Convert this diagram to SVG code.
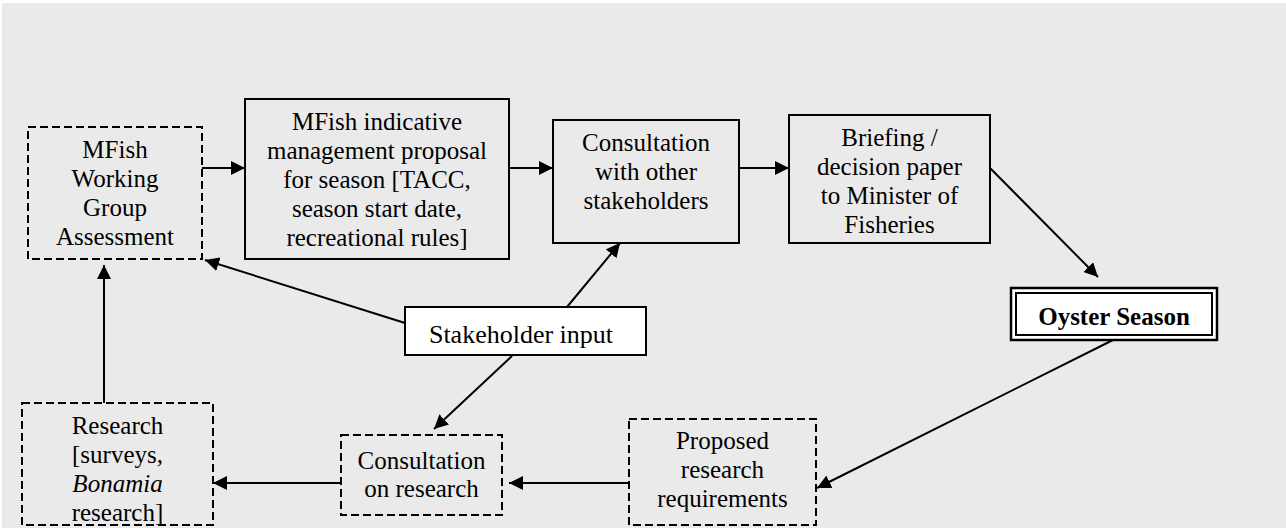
<svg xmlns="http://www.w3.org/2000/svg" width="1286" height="528" viewBox="0 0 1286 528">
<defs>
<style>
.bx{fill:none;stroke:#000;stroke-width:2}
.dash{stroke-dasharray:8,4}
.wh{fill:#fff}
.t{font-family:"Liberation Serif","Times New Roman",serif;font-size:25px;fill:#000;text-anchor:middle}
.b{font-weight:bold}
.c{stroke:#000;stroke-width:2;fill:none;marker-end:url(#ah)}
</style>
<marker id="ah" viewBox="0 0 14 14" refX="14" refY="7" markerWidth="14" markerHeight="14" markerUnits="userSpaceOnUse" orient="auto">
<path d="M0,0 L14,7 L0,14 z" fill="#000"/>
</marker>
</defs>
<rect x="0" y="0" width="1286" height="528" fill="#fff"/>
<rect x="2" y="3" width="1284" height="525" fill="#eaeaea"/>

<g id="connectors">
<line class="c" x1="202" y1="168" x2="245" y2="168"/>
<line class="c" x1="509" y1="168" x2="553" y2="168"/>
<line class="c" x1="739" y1="168" x2="789" y2="168"/>
<line class="c" x1="990" y1="168" x2="1098" y2="277"/>
<line class="c" x1="1113" y1="340" x2="817" y2="488"/>
<line class="c" x1="629" y1="483" x2="509" y2="483"/>
<line class="c" x1="341" y1="483" x2="213" y2="483"/>
<line class="c" x1="104" y1="403" x2="104" y2="265"/>
<line class="c" x1="405" y1="323" x2="205" y2="260"/>
<line class="c" x1="567" y1="307" x2="620" y2="243"/>
<line class="c" x1="512" y1="356" x2="434" y2="429"/>
</g>

<g id="n-wg">
<rect class="bx dash" x="28" y="127" width="174" height="132"/>
<text class="t" x="115" y="158">MFish</text>
<text class="t" x="115" y="187">Working</text>
<text class="t" x="115" y="216">Group</text>
<text class="t" x="115" y="245">Assessment</text>
</g>

<g id="n-proposal">
<rect class="bx" x="245" y="99" width="264" height="160"/>
<text class="t" x="377" y="130">MFish indicative</text>
<text class="t" x="377" y="159">management proposal</text>
<text class="t" x="377" y="188">for season [TACC,</text>
<text class="t" x="377" y="217">season start date,</text>
<text class="t" x="377" y="246">recreational rules]</text>
</g>

<g id="n-consult">
<rect class="bx" x="553" y="120" width="186" height="123"/>
<text class="t" x="646" y="151">Consultation</text>
<text class="t" x="646" y="180">with other</text>
<text class="t" x="646" y="209">stakeholders</text>
</g>

<g id="n-brief">
<rect class="bx" x="789" y="115" width="201" height="128"/>
<text class="t" x="889.5" y="146">Briefing /</text>
<text class="t" x="889.5" y="175">decision paper</text>
<text class="t" x="889.5" y="204">to Minister of</text>
<text class="t" x="889.5" y="233">Fisheries</text>
</g>

<g id="n-oyster">
<rect class="bx wh" x="1011" y="288" width="206" height="52" style="stroke-width:2.5"/>
<rect class="bx" x="1016" y="293" width="196" height="42"/>
<text class="t b" x="1114" y="325">Oyster Season</text>
</g>

<g id="n-stake">
<rect class="bx wh" x="405" y="307" width="241" height="48"/>
<text class="t" x="521" y="343" style="font-size:26px">Stakeholder input</text>
</g>

<g id="n-research">
<rect class="bx dash" x="22" y="403" width="191" height="122"/>
<text class="t" x="117.5" y="434">Research</text>
<text class="t" x="117.5" y="463">[surveys,</text>
<text class="t" x="117.5" y="492" font-style="italic">Bonamia</text>
<text class="t" x="117.5" y="521">research]</text>
</g>

<g id="n-consres">
<rect class="bx dash" x="341" y="435" width="161" height="80"/>
<text class="t" x="421.5" y="469">Consultation</text>
<text class="t" x="421.5" y="497">on research</text>
</g>

<g id="n-propres">
<rect class="bx dash" x="629" y="419" width="187" height="106"/>
<text class="t" x="722.5" y="449">Proposed</text>
<text class="t" x="722.5" y="478">research</text>
<text class="t" x="722.5" y="507">requirements</text>
</g>
</svg>
